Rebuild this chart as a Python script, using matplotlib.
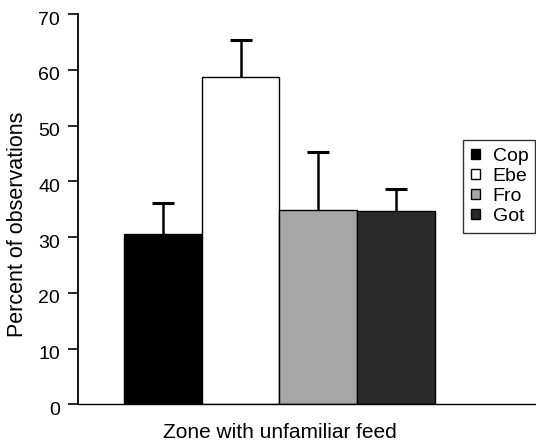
import matplotlib
matplotlib.use("Agg")
import matplotlib.pyplot as plt
from matplotlib.transforms import ScaledTranslation

categories = ["Cop", "Ebe", "Fro", "Got"]
values = [30.5, 58.8, 34.8, 34.6]
errors = [5.6, 6.5, 10.4, 4.1]
colors = ["#000000", "#ffffff", "#a6a6a6", "#2b2b2b"]
yticks = [0, 10, 20, 30, 40, 50, 60, 70]

plt.rcParams['font.family'] = ['Liberation Sans', 'DejaVu Sans']

fig = plt.figure(figsize=(5.36, 4.42), dpi=100)
ax = fig.add_axes([0.1455, 0.0853, 0.8545, 0.8827])

x = list(range(len(categories)))
handles = []
for xi, v, e, c, lab in zip(x, values, errors, colors, categories):
    b = ax.bar(xi, v, width=1.0, color=c, edgecolor="black", linewidth=1.0, label=lab, zorder=2)
    eb = ax.errorbar(xi, v, yerr=[[0], [e]], fmt="none", ecolor="black", elinewidth=1.8,
                     capsize=8, capthick=2.2, zorder=3)
    for cl in eb[1]:
        if abs(cl.get_ydata()[0] - v) < 1e-9:
            cl.set_visible(False)
    handles.append(b)

ax.set_xlim(-1.09, 4.80)
ax.set_ylim(0, 70)
ax.set_yticks(yticks)
ax.set_yticklabels([str(t) for t in yticks], fontsize=14)
ax.set_xticks([])
ax.tick_params(axis="y", direction="out", length=7, width=1.2, pad=6)
offset = ScaledTranslation(0, -4/100, fig.dpi_scale_trans)
for lbl in ax.get_yticklabels():
    lbl.set_transform(lbl.get_transform() + offset)
for s in ["top", "right"]:
    ax.spines[s].set_visible(False)
ax.spines["left"].set_linewidth(1.3)
ax.spines["bottom"].set_linewidth(1.0)

ax.set_ylabel("Percent of observations", fontsize=15.5)
ax.yaxis.set_label_coords(-0.132, 0.461)
ax.yaxis.label.set_va("center")
ax.set_xlabel("Zone with unfamiliar feed", fontsize=15)
ax.xaxis.set_label_coords(0.441, -0.0871)
ax.xaxis.label.set_va("baseline")

leg = fig.legend(handles=handles, labels=categories, loc="upper left",
                 bbox_to_anchor=(463/536, 1 - 233/442, 72/536, 93/442), mode="expand",
                 frameon=True, fancybox=False,
                 edgecolor="black", fontsize=14, handlelength=0.45, handleheight=0.45,
                 handletextpad=0.65, borderpad=0.42, labelspacing=0.15, borderaxespad=0)
leg.get_frame().set_linewidth(1.0)

fig.savefig("out.png", dpi=100)
